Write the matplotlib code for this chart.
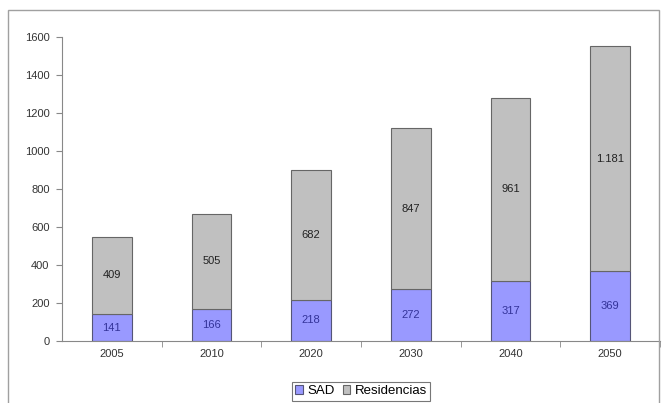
import matplotlib
matplotlib.use("Agg")
import numpy as np
import matplotlib.pyplot as plt
from matplotlib.patches import Rectangle

years = ["2005", "2010", "2020", "2030", "2040", "2050"]
sad = [141, 166, 218, 272, 317, 369]
residencias = [409, 505, 682, 847, 961, 1181]
res_labels = ["409", "505", "682", "847", "961", "1.181"]

plt.rcParams['font.family'] = ['Liberation Sans', 'DejaVu Sans']

fig = plt.figure(figsize=(6.62, 4.03), dpi=100)
ax = fig.add_axes([62/662, 1-341/403, 598/662, 304/403])

# outer chart border
fig.patches.append(Rectangle((8/662, -0.02), 651/662, 1-10/403+0.02,
                             transform=fig.transFigure, fill=False,
                             edgecolor='#a0a0a0', linewidth=1))

x = np.arange(len(years))
ax.bar(x, sad, width=0.4, color='#9999ff', edgecolor='#555577', linewidth=0.8, label='SAD')
ax.bar(x, residencias, width=0.4, bottom=sad, color='#c0c0c0', edgecolor='#666666', linewidth=0.8, label='Residencias')

for i in range(len(years)):
    ax.text(x[i], sad[i]/2, str(sad[i]), ha='center', va='center', fontsize=8, color='#333399')
    ax.text(x[i], sad[i] + residencias[i]/2, res_labels[i], ha='center', va='center', fontsize=8, color='#222222')

ax.set_xlim(-0.5, 5.5)
ax.set_ylim(0, 1600)
ax.set_yticks(np.arange(0, 1601, 200))
ax.set_xticks(x)
ax.set_xticklabels(years)
ax.set_xticks(np.arange(0.5, 6, 1), minor=True)
ax.tick_params(axis='x', which='major', length=0, labelsize=8, colors='#333333', pad=6)
ax.tick_params(axis='x', which='minor', length=4, color='#888888')
ax.tick_params(axis='y', length=4, labelsize=8, colors='#333333', pad=5)
ax.tick_params(axis='y', color='#888888')
for s in ['top', 'right']:
    ax.spines[s].set_visible(False)
for s in ['left', 'bottom']:
    ax.spines[s].set_color('#888888')

leg = ax.legend(loc='upper center', bbox_to_anchor=(0.5, -0.135), ncol=2, fontsize=9.5,
                frameon=True, fancybox=False, edgecolor='#555555', handlelength=0.6,
                handleheight=0.6, handletextpad=0.3, columnspacing=0.6, borderpad=0.25,
                borderaxespad=0)
leg.get_frame().set_linewidth(0.8)

fig.savefig("out.png", dpi=100)
